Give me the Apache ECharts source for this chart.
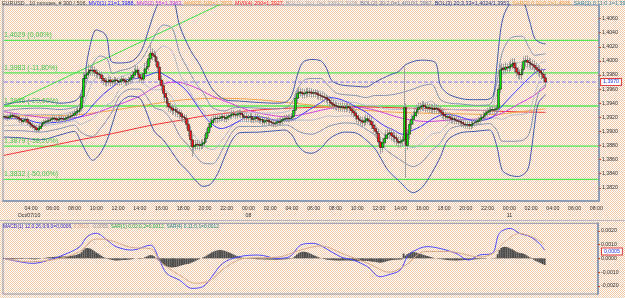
<!DOCTYPE html>
<html><head><meta charset="utf-8">
<script src="https://cdn.jsdelivr.net/npm/echarts@6/dist/echarts.min.js"></script>
<style>html,body{margin:0;padding:0;width:625px;height:298px;overflow:hidden}#c{width:625px;height:298px}</style>
</head><body><div id="c"></div><script>
// ---------- DATA (prices in pips above 1.3800; indicators as [barIndex, pips]) ----------
const BASE = 1.38, PIP = 0.0001;
const SLOTS = 329;           // bar slots on the time axis (300 bars drawn)
const firstOpen = 120;
const closes = [
121,120,119,121,123,122,121,120,118,116, 114,116,117,113,111,109,107,105,102,104,
107,111,113,114,115,116,117,119,118,116, 117,119,118,117,119,120,121,122,123,126,
128,130,133,149,175,180,183,187,186,187, 184,182,181,180,175,172,170,171,173,170,
171,173,172,170,171,174,172,170,171,173, 176,180,184,187,181,176,174,182,189,192,
203,211,208,206,199,191,173,165,154,148, 140,135,133,130,131,128,127,125,121,120,
118,110,101,88,78,80,82,81,80,82, 84,90,98,106,112,116,118,119,118,119,
121,120,118,120,122,123,125,124,123,125, 126,124,120,121,119,120,121,117,118,120,
118,116,117,113,115,116,114,113,112,111, 112,114,113,115,117,118,119,118,119,121,
130,147,154,156,155,153,154,156,155,156, 154,155,154,152,151,150,149,148,146,144,
141,139,137,136,135,134,135,134,133,135, 134,132,129,126,122,118,116,115,113,115,
118,116,114,109,104,100,97,85,77,84, 90,95,97,98,94,92,90,86,84,86,
88,134,80,96,110,117,122,127,131,134, 135,137,135,133,134,132,133,131,133,132,
130,127,124,122,120,121,119,117,118,116, 115,114,113,111,110,109,110,108,110,112,
113,114,116,119,120,123,126,128,130,131, 130,131,133,160,187,190,188,191,190,192,
195,197,190,184,181,180,188,199,201,198, 197,195,194,191,188,186,183,181,176,170];
const highs = [
125,123,124,124,128,126,125,124,123,121, 119,120,121,121,117,114,113,111,109,108,
111,115,117,118,119,120,121,123,123,122, 121,123,123,122,123,124,125,127,128,131,
133,135,139,156,184,188,190,196,193,194, 192,189,187,186,185,180,177,176,178,178,
175,178,177,176,175,179,178,176,175,178, 181,186,190,194,193,187,182,189,197,200,
210,225,218,215,213,206,198,180,172,161, 154,146,141,139,137,136,133,132,130,126,
125,124,117,108,95,86,88,88,87,88, 89,96,104,112,118,121,123,124,124,124,
126,126,124,125,127,128,130,130,129,130, 131,131,129,126,126,125,126,126,123,125,
125,123,122,122,120,121,121,119,118,117, 117,119,119,120,122,123,124,124,124,126,
136,154,161,163,162,161,160,162,162,162, 161,160,160,159,157,156,155,154,153,151,
150,147,145,143,142,141,141,141,140,141, 141,140,138,135,132,128,124,122,121,121,
124,124,122,120,115,110,106,104,92,91, 97,102,104,105,105,101,99,97,93,93,
94,191,140,103,117,124,129,134,138,141, 141,143,143,141,140,140,139,139,139,139,
138,136,133,130,128,127,127,125,124,124, 121,120,119,118,116,115,115,115,115,117,
118,119,121,124,125,128,131,133,135,136, 136,136,138,166,194,197,196,198,197,199,
202,204,204,197,191,188,195,206,208,208, 205,204,202,201,198,195,193,190,188,183];
const lows = [
117,116,115,116,118,118,117,116,114,112, 110,111,112,109,107,105,103,100,98,99,
101,104,107,109,110,111,112,113,114,112, 112,113,114,113,113,115,116,117,118,119,
121,123,125,128,140,168,174,177,179,179, 178,176,175,174,169,166,164,164,165,164,
165,166,167,165,165,166,167,165,165,166, 168,170,174,178,175,170,168,168,175,182,
186,197,201,199,193,184,166,158,147,141, 133,128,126,123,124,121,120,118,114,113,
112,103,93,79,64,70,73,74,73,74, 75,78,84,92,100,106,110,112,112,113,
114,115,113,113,115,117,118,119,118,118, 120,119,115,115,114,114,115,112,112,113,
113,111,111,108,108,110,109,108,107,106, 106,107,108,108,110,112,113,113,113,114,
115,124,140,147,149,147,147,148,149,149, 148,148,148,146,145,144,143,142,140,138,
135,133,131,130,129,128,128,128,127,127, 128,126,123,120,116,112,110,109,107,107,
109,110,108,103,98,94,90,78,68,70, 77,83,88,90,87,85,83,79,77,77,
79,82,34,74,89,103,110,115,120,124, 128,129,129,127,127,126,126,125,125,126,
124,121,118,116,114,114,113,111,111,110, 110,109,108,106,105,104,104,103,103,105,
107,108,109,111,114,115,118,121,123,125, 125,125,126,128,154,180,181,181,183,183,
186,188,183,177,174,173,173,181,192,191, 190,188,187,184,181,179,176,174,169,163];

const ma21 = [[0,118],[10,118],[20,112],[30,113],[40,119],[45,125],[50,140],[55,153],[60,163],[65,172],[70,174],[75,176],[80,180],[85,184],[90,178],[95,170],[100,160],[105,143],[110,124],[115,110],[120,104],[125,108],[130,115],[135,121],[140,121],[145,119],[150,116],[155,116],[160,117],[165,125],[170,133],[175,141],[180,148],[185,146],[190,141],[195,134],[200,127],[205,117],[210,108],[215,102],[220,96],[225,101],[230,107],[235,115],[240,122],[245,124],[250,122],[255,118],[260,115],[265,116],[270,121],[275,136],[280,150],[285,163],[290,176],[295,186],[299,188]];
const ma55 = [[0,128],[15,122],[30,118],[45,122],[60,135],[75,150],[85,165],[95,170],[105,163],[115,150],[125,140],[135,130],[145,124],[155,121],[165,124],[175,130],[185,134],[195,134],[205,130],[215,122],[225,116],[235,114],[245,116],[255,117],[265,118],[275,126],[285,140],[292,150],[299,163]];
const ma100 = [[0,122],[20,122],[42,124],[60,130],[80,138],[100,145],[120,147],[140,145],[160,140],[175,136],[190,132],[210,128],[230,126],[250,125],[270,124],[285,128],[299,132]];
const ma200 = [[0,66],[21,77],[38,86],[60,97],[80,108],[100,117],[108,121],[130,128],[150,132],[170,134],[190,135],[210,134],[235,132],[260,130],[280,128],[299,127]];
const bb3Up = [[0,138],[9,142],[20,144],[31,140],[39,143],[42,150],[44,168],[47,215],[51,244],[55,240],[57,232],[59,200],[63,197],[71,200],[76,215],[80,245],[84,275],[88,292],[93,290],[97,250],[103,215],[108,195],[115,160],[122,145],[130,143],[141,141],[150,140],[156,142],[159,152],[162,180],[165,198],[170,202],[175,200],[178,190],[181,172],[186,166],[194,164],[200,163],[205,170],[213,180],[218,185],[222,195],[230,201],[238,198],[241,165],[246,152],[257,145],[266,145],[270,150],[272,190],[274,240],[276,265],[280,282],[286,284],[290,258],[293,232],[296,226],[299,224]];
const bb3Lo = [[0,92],[9,91],[20,88],[31,95],[39,100],[42,88],[46,68],[49,59],[53,68],[57,88],[60,112],[64,140],[70,150],[75,147],[78,132],[83,100],[88,88],[97,55],[101,45],[106,30],[110,22],[114,25],[118,40],[122,65],[126,88],[130,98],[141,99],[150,101],[155,102],[159,95],[162,81],[166,71],[170,69],[175,76],[179,88],[183,95],[188,99],[194,98],[199,90],[205,75],[208,62],[212,45],[218,30],[226,13],[231,21],[236,40],[241,64],[245,88],[252,98],[260,100],[268,102],[272,80],[275,45],[279,38],[284,36],[289,45],[291,70],[293,110],[295,140],[299,152]];
const bb2Up = [[0,129],[9,132],[20,133],[31,131],[39,134],[42,138],[46,173],[49,195],[53,207],[57,203],[60,182],[64,186],[70,190],[75,199],[78,210],[83,234],[88,251],[93,246],[97,211],[101,191],[106,168],[110,155],[115,134],[122,129],[126,133],[130,134],[141,133],[150,132],[156,134],[159,141],[162,160],[166,173],[170,175],[175,175],[179,165],[183,155],[188,152],[194,151],[200,148],[205,151],[210,151],[218,154],[226,160],[231,165],[236,167],[241,145],[246,140],[252,139],[260,137],[268,138],[272,168],[275,211],[280,233],[286,235],[290,218],[293,208],[296,209],[299,210]];
const bb2Lo = [[0,101],[9,101],[20,99],[31,104],[39,109],[42,100],[46,94],[49,93],[53,103],[57,117],[60,129],[64,151],[70,160],[75,160],[78,152],[83,134],[88,129],[93,114],[97,94],[101,82],[106,65],[110,55],[115,54],[122,81],[126,99],[130,107],[141,107],[150,109],[156,109],[159,106],[162,101],[166,97],[170,96],[175,101],[179,107],[183,110],[188,112],[194,111],[200,103],[205,94],[210,76],[218,61],[226,50],[231,57],[236,72],[241,84],[246,103],[252,108],[260,109],[268,111],[272,102],[275,86],[280,86],[286,87],[290,97],[293,134],[296,160],[299,166]];
const bb1Up = [[0,122],[9,124],[20,124],[31,124],[39,128],[42,128],[46,153],[49,170],[53,181],[57,182],[60,169],[64,177],[70,182],[75,189],[78,196],[83,209],[88,221],[93,213],[97,182],[101,164],[106,142],[110,130],[115,114],[122,117],[126,124],[130,127],[141,126],[150,126],[156,128],[159,132],[162,145],[166,154],[170,155],[175,157],[179,150],[183,144],[188,142],[194,141],[200,137],[205,137],[210,132],[218,131],[226,133],[231,138],[236,143],[241,130],[246,131],[252,131],[260,130],[268,131],[272,152],[275,180],[280,196],[286,198],[290,188],[293,189],[296,197],[299,199]];
const bb1Lo = [[0,108],[9,109],[20,108],[31,111],[39,115],[42,110],[46,114],[49,118],[53,129],[57,138],[60,142],[64,160],[70,168],[75,170],[78,166],[83,159],[88,159],[93,147],[97,123],[101,109],[106,91],[110,80],[115,74],[122,93],[126,108],[130,114],[141,114],[150,115],[156,115],[159,115],[162,116],[166,116],[170,116],[175,119],[179,122],[183,121],[188,122],[194,121],[200,114],[205,108],[210,95],[218,84],[226,77],[231,84],[236,96],[241,99],[246,112],[252,116],[260,116],[268,118],[272,119],[275,117],[280,123],[286,124],[290,128],[293,153],[296,172],[299,177]];
const trendLine = [[0,135],[130,293]];
const fibLevels = [1.4029, 1.3983, 1.3936, 1.3879, 1.3832];
const fibLabels = ['1,4029 (0,00%)', '1,3983 (-11,80%)', '1,3936 (-23,60%)', '1,3879 (-38,20%)', '1,3832 (-50,00%)'];
const lastPrice = 1.3970;
const priceTicks = [1.382,1.384,1.386,1.388,1.390,1.392,1.394,1.396,1.398,1.400,1.402,1.404,1.406];

// MACD panel (histogram in 0.00001 units, lines in pips)
const macdHist = [
-5,-6,-7,-8,-8,-7,-6,-6,-5,-4, -4,-3,-3,-3,-4,-5,-6,-7,-6,-4,
-2,0,2,4,6,8,9,10,11,12, 12,13,14,14,15,16,17,18,20,22,
25,30,35,45,60,72,75,74,70,62, 52,43,35,27,18,10,4,-2,-6,-9,
-12,-14,-15,-15,-14,-13,-12,-11,-10,-9, -8,-6,-3,0,-2,-4,-3,2,8,14,
20,24,22,15,5,-8,-20,-32,-43,-52, -58,-62,-65,-66,-65,-63,-60,-56,-52,-48,
-44,-42,-40,-36,-30,-24,-18,-12,-6,0, 6,12,20,28,36,44,50,55,58,60,
60,58,55,50,45,40,34,28,22,16, 11,7,4,2,0,-2,-3,-4,-5,-5,
-6,-6,-7,-7,-8,-8,-9,-9,-9,-10, -10,-10,-9,-9,-8,-7,-6,-5,-4,-2,
5,15,28,38,45,48,48,46,42,37, 31,25,19,13,8,3,-1,-5,-8,-10,
-12,-13,-14,-15,-15,-16,-16,-16,-15,-15, -15,-16,-17,-18,-19,-20,-20,-20,-19,-18,
-18,-19,-20,-22,-24,-25,-27,-30,-32,-30, -28,-24,-20,-16,-13,-12,-11,-10,-9,-8,
-8,35,20,30,38,44,46,45,42,38, 34,30,26,22,18,14,10,6,3,0,
-2,-4,-6,-8,-10,-12,-13,-14,-15,-15, -15,-15,-14,-14,-13,-12,-12,-11,-10,-9,
-8,-7,-6,-5,-4,-3,-2,-1,0,1, 2,3,5,30,60,75,82,84,82,78,
72,66,58,50,44,40,38,36,30,22, 14,6,-2,-10,-18,-24,-30,-36,-42,-48];
const macdMain = [[0,0],[9,-2.5],[16,-3.6],[25,-1.2],[35,3.6],[42,8.5],[46,15.7],[51,18.2],[57,13.3],[62,8.5],[71,6],[81,9.6],[86,-1.2],[90,-10.9],[97,-15.7],[104,-21.7],[110,-20.5],[115,-13.3],[121,-3.6],[130,1.2],[141,2.4],[151,0],[158,1.2],[164,9.6],[171,10.9],[178,7.2],[186,1.2],[193,-1.2],[201,-6],[208,-13.3],[212,-12.1],[219,-8.5],[223,1.2],[226,4.8],[234,8.5],[241,7.2],[250,3.6],[257,-1.2],[263,2.4],[270,3.6],[274,18.2],[280,21.7],[285,18.2],[291,15.7],[296,10.9],[299,6]];
const macdSignal = [[0,0],[14,-2.5],[31,0],[42,5],[51,14],[59,13],[70,8],[81,7],[87,-3],[97,-12],[106,-18],[114,-16],[122,-7],[133,0],[152,1],[164,6],[175,9],[188,3],[202,-4],[213,-10],[222,-5],[233,5],[246,5],[263,1],[271,4],[277,12],[285,18],[293,15],[299,10]];
const macdMarker = 0.0005;
const macdTicks = [-0.002,-0.001,0,0.001,0.002];

// ---------- BUILD ----------
const toP = p => BASE + p * PIP;
const toPts = arr => arr.map(d => [d[0], toP(d[1])]);
const cats = [];
for (let i = 0; i < SLOTS; i++) {
  let day, m;
  if (i < 279) { m = 90 + 10 * i; day = 7 + Math.floor(m / 1440); m = m % 1440; }
  else { day = 11; m = 10 * (i - 279); }
  const hh = String(Math.floor(m / 60)).padStart(2, '0'), mm = String(m % 60).padStart(2, '0');
  cats.push(String(day).padStart(2, '0') + ' ' + hh + ':' + mm);
}
const wickData = [], bodyData = [];
for (let i = 0; i < closes.length; i++) {
  const o = i ? closes[i - 1] : firstOpen, c = closes[i];
  wickData.push([toP(o), toP(c), toP(lows[i]), toP(highs[i])]);
  bodyData.push([toP(o), toP(c), toP(Math.min(o, c)), toP(Math.max(o, c))]);
}
const showTick = (idx, val) => val.slice(6) === '00' && (parseInt(val.slice(3, 5), 10) % 2 === 0) && idx >= 15;
const fmtP = v => v.toFixed(4).replace('.', ',');

// background texture
const pc = document.createElement('canvas'); pc.width = 2; pc.height = 2;
const g = pc.getContext('2d'); g.fillStyle = '#fff'; g.fillRect(0, 0, 2, 2);
g.fillStyle = '#f1c9a9'; g.fillRect(0, 0, 1, 1); g.fillRect(1, 1, 1, 1);
document.body.style.background = 'url(' + pc.toDataURL() + ')';

const FONT = 'Liberation Sans';
const AX = 5.2;
const chart = echarts.init(document.getElementById('c'));
const line = (name, data, color, extra) => Object.assign({
  name, type: 'line', data: toPts(data), showSymbol: false, symbol: 'none', smooth: 0.35,
  lineStyle: { color, width: 1 }, silent: true, animation: false, z: 3
}, extra || {});
const boxStyle = { color: '#2233dd', fontSize: AX, fontFamily: FONT, backgroundColor: '#ffffff',
  borderColor: '#e03c3c', borderWidth: 1, padding: [1, 2, 0, 2] };
const flat = v => [[0, v], [SLOTS - 1, v]];

const fibSeries = fibLevels.map((v, k) => ({ name: 'fib' + k, type: 'line', data: flat(v), symbol: 'none',
  showSymbol: false, silent: true, z: 2, lineStyle: { color: '#52e852', width: 1.3 } }));

chart.setOption({
  animation: false,
  textStyle: { fontFamily: FONT },
  grid: [
    { left: 3, right: 26, top: 5, bottom: 97.3, show: true, borderColor: '#8a94a8', borderWidth: 1 },
    { left: 3, right: 27, top: 223.3, bottom: 4, show: true, borderColor: '#8a94a8', borderWidth: 1 }
  ],
  xAxis: [
    { type: 'category', data: cats, gridIndex: 0, boundaryGap: true,
      axisLine: { lineStyle: { color: '#8c9cb4', width: 2 } },
      axisTick: { interval: showTick, alignWithLabel: true, length: 2, lineStyle: { color: '#d04a20' } },
      axisLabel: { interval: showTick, fontSize: AX, color: '#303030', margin: 4, lineHeight: 7,
        formatter: (val, idx) => {
          const t = val.slice(3);
          if (idx === 15) return t + '\n{d|Oct/07/10}';
          if (t === '00:00') return t + '\n' + val.slice(0, 2);
          return t;
        },
        rich: { d: { fontSize: AX, color: '#303030', padding: [0, 4, 0, 0], lineHeight: 7 } } },
      splitLine: { show: false } },
    { type: 'category', data: cats, gridIndex: 1, boundaryGap: true, show: false }
  ],
  yAxis: [
    { type: 'value', gridIndex: 0, position: 'right', min: 1.38017, max: 1.40793,
      axisLine: { show: true, lineStyle: { color: '#8c9cb4', width: 2 } },
      axisTick: { show: true, customValues: priceTicks, length: 2, lineStyle: { color: '#d04a20' } },
      axisLabel: { customValues: priceTicks, formatter: fmtP, fontSize: AX, color: '#303030', margin: 3 },
      splitLine: { show: false } },
    { type: 'value', gridIndex: 1, position: 'right', min: -0.00258, max: 0.00254,
      axisLine: { show: true, lineStyle: { color: '#8c9cb4', width: 2 } },
      axisTick: { show: true, customValues: macdTicks, length: 2, lineStyle: { color: '#d04a20' } },
      axisLabel: { customValues: macdTicks, formatter: fmtP, fontSize: AX, color: '#303030', margin: 3 },
      splitLine: { show: false } }
  ],
  series: fibSeries.concat([
    { name: 'price', type: 'line', data: flat(lastPrice), symbol: 'none', showSymbol: false, silent: true, z: 2,
      lineStyle: { color: '#7b7bff', width: 1, type: [4, 2] },
      endLabel: Object.assign({ show: true, formatter: fmtP(lastPrice), distance: 3 }, boxStyle) },
    line('trend', trendLine, '#3fe03f', { smooth: false }),
    line('MA200', ma200, '#f03030'),
    line('MA100', ma100, '#f0a448'),
    line('MA55', ma55, '#cc44dd'),
    line('BB1 up', bb1Up, '#b4bccc', { smooth: 0.3 }),
    line('BB1 lo', bb1Lo, '#b4bccc', { smooth: 0.3 }),
    line('BB2 up', bb2Up, '#8292b2', { smooth: 0.3 }),
    line('BB2 lo', bb2Lo, '#8292b2', { smooth: 0.3 }),
    line('MA21', ma21, '#3a3aff'),
    line('BB3 up', bb3Up, '#3d58a8', { smooth: 0.3 }),
    line('BB3 lo', bb3Lo, '#3d58a8', { smooth: 0.3 }),
    { name: 'wicks', type: 'candlestick', data: wickData, barWidth: 1, silent: true, z: 4,
      itemStyle: { color: '#a0a0a0', color0: '#a0a0a0', borderColor: '#a0a0a0', borderColor0: '#a0a0a0', borderWidth: 1 } },
    { name: 'bodies', type: 'candlestick', data: bodyData, barWidth: 2.3, silent: true, z: 5,
      itemStyle: { color: '#00e400', color0: '#ff1010', borderColor: '#101010', borderColor0: '#101010', borderWidth: 0.5 } },
    { name: 'hist', type: 'bar', xAxisIndex: 1, yAxisIndex: 1, data: macdHist.map(v => v * 0.00001),
      barWidth: '100%', itemStyle: { color: '#4e4e4e' }, silent: true },
    { name: 'MACD', type: 'line', xAxisIndex: 1, yAxisIndex: 1, data: macdMain.map(d => [d[0], d[1] * PIP]),
      showSymbol: false, smooth: 0.35, lineStyle: { color: '#4a4aff', width: 1 }, silent: true },
    { name: 'Signal', type: 'line', xAxisIndex: 1, yAxisIndex: 1, data: macdSignal.map(d => [d[0], d[1] * PIP]),
      showSymbol: false, smooth: 0.35, lineStyle: { color: '#d8a888', width: 1 }, silent: true }
  ]),
  graphic: [
    { id: 'title', type: 'text', left: 2, top: 1, silent: true, style: { fontFamily: FONT, fontSize: 5.4,
      text: '{a|EURUSD , 10 minutes, # 300 / 506, }{b|MV0(1) 21=1,3988, }{c|MV0(2) 55=1,3963, }{d|MV0(3) 100=1,3932, }{e|MV0(4) 200=1,3927, }{f|BOL(1) 20;1,0=1,3999/1,3978, }{g|BOL(2) 20;2,0=1,4010/1,3967, }{h|BOL(3) 20;3,33=1,4024/1,3953, }{k|SAR(2) 0,02;0,2=1,4006, }{m|SAR(3) 0,11;0,1=1,3991}',
      rich: { a: { fill: '#404040', fontSize: 5.4 }, b: { fill: '#2020ff', fontSize: 5.4 }, c: { fill: '#c030e0', fontSize: 5.4 },
        d: { fill: '#f0a040', fontSize: 5.4 }, e: { fill: '#ff2020', fontSize: 5.4 }, f: { fill: '#a8a8b4', fontSize: 5.4 },
        g: { fill: '#6a7898', fontSize: 5.4 }, h: { fill: '#203080', fontSize: 5.4 }, k: { fill: '#f0a040', fontSize: 5.4 }, m: { fill: '#3080a0', fontSize: 5.4 } } } },
    { id: 'mtitle', type: 'text', left: 3, top: 224, silent: true, style: { fontFamily: FONT, fontSize: 4.9,
      text: '{a|MACD(1) 12,0;26,0;9,0=0,0006, }{b|0,0010, }{c|-0,0005, }{d|SAR(1) 0,02;0,2=0,0012, }{e|SAR(4) 0,11;0,1=0,0012}',
      rich: { a: { fill: '#2828c8', fontSize: 4.9 }, b: { fill: '#d8a080', fontSize: 4.9 }, c: { fill: '#909090', fontSize: 4.9 },
        d: { fill: '#20a040', fontSize: 4.9 }, e: { fill: '#208080', fontSize: 4.9 } } } },
    { id: 'sep', type: 'rect', left: 0, top: 220, silent: true, shape: { width: 625, height: 1 }, style: { fill: '#b8b8c0' } }
  ]
});

// labels anchored through the axes
const extra = fibLevels.map((v, k) => {
  const y = chart.convertToPixel({ yAxisIndex: 0 }, v);
  return { id: 'fl' + k, type: 'text', x: 4, y: y - 1.5, silent: true, z: 10,
    style: { text: fibLabels[k], fill: '#48c448', fontSize: 7, fontFamily: FONT, verticalAlign: 'bottom', align: 'left' } };
});
const my = chart.convertToPixel({ yAxisIndex: 1 }, macdMarker);
extra.push({ id: 'mbox', type: 'text', x: 602, y: my, silent: true, z: 10,
  style: { text: fmtP(macdMarker), fill: '#2233dd', fontSize: AX, fontFamily: FONT, verticalAlign: 'middle', align: 'left',
    backgroundColor: '#ffffff', borderColor: '#e03c3c', borderWidth: 1, padding: [1, 2, 0, 2] } });
chart.setOption({ graphic: extra });
</script></body></html>
